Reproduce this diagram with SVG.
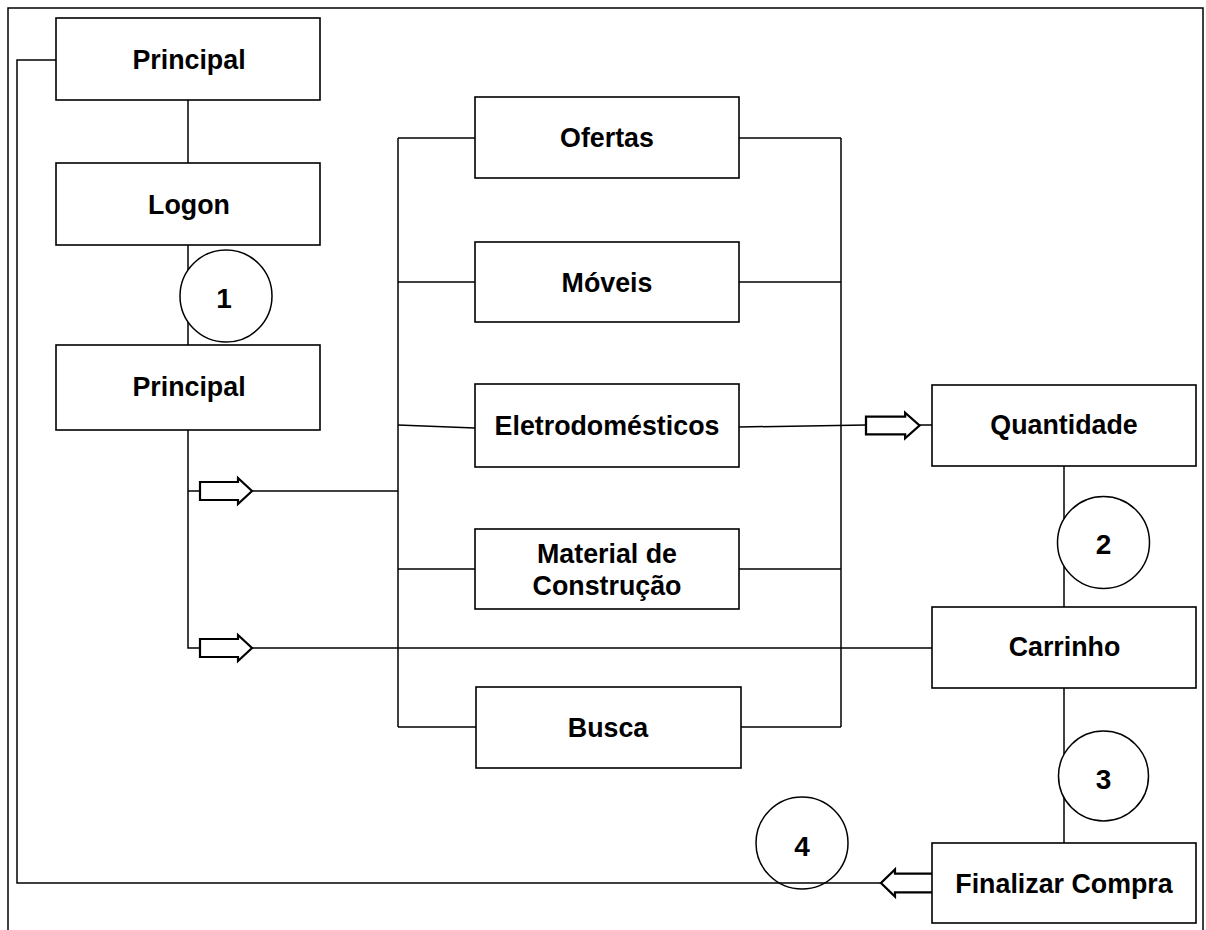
<svg xmlns="http://www.w3.org/2000/svg" xmlns:xlink="http://www.w3.org/1999/xlink" width="1206" height="930" viewBox="0 0 1206 930">
<style>
.box{fill:#fff;stroke:#000;stroke-width:1.6}
.ln{fill:none;stroke:#000;stroke-width:1.5}
.circ{fill:#fff;stroke:#000;stroke-width:1.5}
.t{font-family:"Liberation Sans",Arial,sans-serif;font-weight:bold;font-size:26.8px;text-anchor:middle;fill:#000}
.n{font-size:28px}
.arr{fill:#fff;stroke:#000;stroke-width:2.2;stroke-linejoin:miter}
</style>
<defs>
<path id="arrow" class="arr" d="M0,-9 H38 V-13 L52,0 L38,13 V9 H0 Z"/>
</defs>
<rect x="0" y="0" width="1206" height="930" fill="#fff"/>
<path class="ln" d="M8,930 V8 H1203 V930" stroke-width="1.8"/>
<g id="connectors">
  <path class="ln" d="M56,60 H17 V883 H881"/>
  <path class="ln" d="M188,100 V163"/>
  <path class="ln" d="M188,245 V345"/>
  <path class="ln" d="M188,430 V648 H200"/>
  <path class="ln" d="M188,491 H200"/>
  <path class="ln" d="M252,491 H398"/>
  <path class="ln" d="M252,648 H932"/>
  <path class="ln" d="M398,138 V727"/>
  <path class="ln" d="M398,138 H475"/>
  <path class="ln" d="M398,282 H475"/>
  <path class="ln" d="M398,425 L475,428"/>
  <path class="ln" d="M398,569 H475"/>
  <path class="ln" d="M398,727 H476"/>
  <path class="ln" d="M841,138 V727"/>
  <path class="ln" d="M739,138 H841"/>
  <path class="ln" d="M739,282 H841"/>
  <path class="ln" d="M739,427 L866,425"/>
  <path class="ln" d="M739,569 H841"/>
  <path class="ln" d="M741,727 H841"/>
  <path class="ln" d="M918,425 H932"/>
  <path class="ln" d="M1064,466 V607"/>
  <path class="ln" d="M1064,688 V843"/>
  <use xlink:href="#arrow" href="#arrow" x="200" y="491"/>
  <use xlink:href="#arrow" href="#arrow" x="200" y="648"/>
  <use xlink:href="#arrow" href="#arrow" transform="translate(866,425.5) scale(1.03,0.98)"/>
  <use xlink:href="#arrow" href="#arrow" transform="translate(933,883) scale(-1,1.05)"/>
</g>
<g id="principal1"><rect class="box" x="56" y="18" width="264" height="82"/><text class="t" x="189" y="69">Principal</text></g>
<g id="logon"><rect class="box" x="56" y="163" width="264" height="82"/><text class="t" x="189" y="214">Logon</text></g>
<g id="c1"><circle class="circ" cx="226" cy="296" r="46"/><text class="t n" x="224" y="308">1</text></g>
<g id="principal2"><rect class="box" x="56" y="345" width="264" height="85"/><text class="t" x="189" y="396">Principal</text></g>
<g id="ofertas"><rect class="box" x="475" y="97" width="264" height="81"/><text class="t" x="607" y="147">Ofertas</text></g>
<g id="moveis"><rect class="box" x="475" y="242" width="264" height="80"/><text class="t" x="607" y="292">Móveis</text></g>
<g id="eletro"><rect class="box" x="475" y="384" width="264" height="83"/><text class="t" x="607" y="435">Eletrodomésticos</text></g>
<g id="material"><rect class="box" x="475" y="529" width="264" height="80"/><text class="t" x="607" y="563">Material de</text><text class="t" x="607" y="595">Construção</text></g>
<g id="busca"><rect class="box" x="476" y="687" width="265" height="81"/><text class="t" x="608" y="737">Busca</text></g>
<g id="quantidade"><rect class="box" x="932" y="385" width="264" height="81"/><text class="t" x="1064" y="434">Quantidade</text></g>
<g id="c2"><circle class="circ" cx="1103.5" cy="542.5" r="46"/><text class="t n" x="1103.5" y="554">2</text></g>
<g id="carrinho"><rect class="box" x="932" y="607" width="264" height="81"/><text class="t" x="1064.5" y="656">Carrinho</text></g>
<g id="c3"><circle class="circ" cx="1103.5" cy="776" r="45"/><text class="t n" x="1103.5" y="789">3</text></g>
<g id="finalizar"><rect class="box" x="932" y="843" width="264" height="80"/><text class="t" x="1064" y="893">Finalizar Compra</text></g>
<g id="c4"><circle class="circ" cx="802" cy="843" r="46" style="fill:none"/><text class="t n" x="802" y="856">4</text></g>
</svg>
